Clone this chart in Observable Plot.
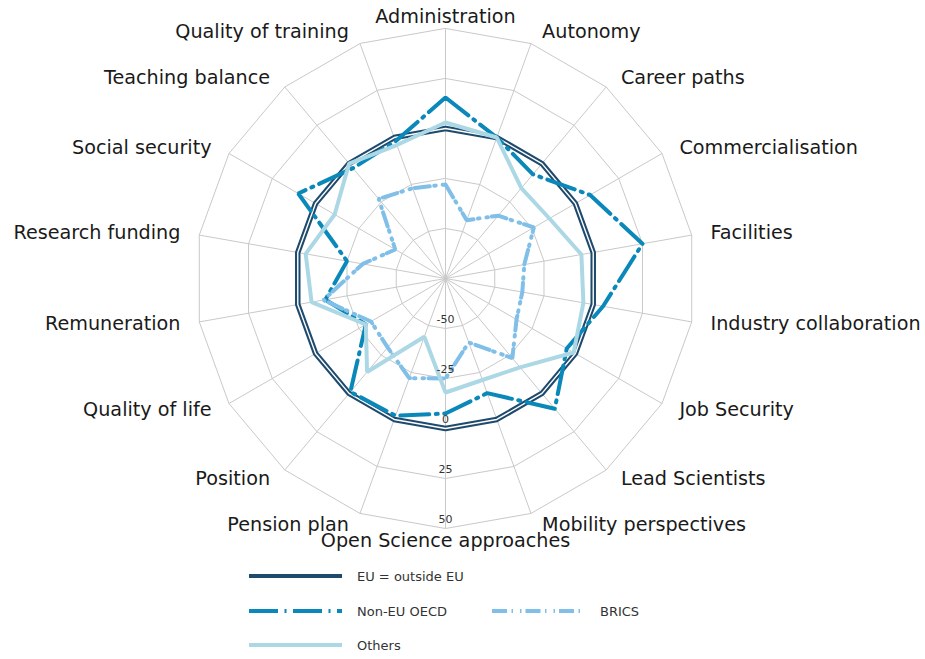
<!DOCTYPE html>
<html>
<head>
<meta charset="utf-8">
<script src="https://cdn.jsdelivr.net/npm/d3@7"></script>
<script src="https://cdn.jsdelivr.net/npm/@observablehq/plot@0.6"></script>
<style>
  body { margin: 0; background: #fff; }
  #wrap { position: relative; width: 925px; height: 659px; overflow: hidden; }
  #legend { position: absolute; left: 0; top: 560px; }
</style>
</head>
<body>
<div id="wrap"><div id="chart"></div><svg id="legend" width="925" height="99"></svg></div>
<script>
// ---- data ----
const categories = [
  "Administration", "Autonomy", "Career paths", "Commercialisation", "Facilities",
  "Industry collaboration", "Job Security", "Lead Scientists", "Mobility perspectives",
  "Open Science approaches", "Pension plan", "Position", "Quality of life",
  "Remuneration", "Research funding", "Social security", "Teaching balance",
  "Quality of training"
];
const euValues     = [0, 0, 0, 0, 0, 0, 0, 0, 0, 0, 0, 0, 0, 0, 0, 0, 0, 0];
const nonEuOecd    = [15.5, 0, -7, 8.5, 25, 5, -5, 10, -14, -7.5, -2, -1, -29, -14, -25, 10, -3, -2];
const bricsValues  = [-28, -44, -34, -24, -35, -36, -34, -23, -41, -25, -22, -30, -32, -13, -33, -46, -23, -27];
const othersValues = [3, 0, -16, -15, -6, -5, -1, -17, -21, -18, -44, -14, -29, -7, -4, -11, 0, -4];
const seriesNames  = ["EU = outside EU", "Non-EU OECD", "BRICS", "Others"];
const ringTicks    = [-50, -25, 0, 25, 50];
const radialMin = -75, radialMax = 50, labelValue = 56;

// ---- helpers ----
const n = categories.length;
const lonOf = new Map(categories.map((c, i) => [c, 180 - i * 360 / n]));
const deg = 0.004;                       // degrees per unit
const lat = v => 90 - deg * (v - radialMin);

const toRows = (name, vals) => categories.map((c, i) => ({series: name, cat: c, value: vals[i]}));
const eu = toRows(seriesNames[0], euValues);
const nonEu = toRows(seriesNames[1], nonEuOecd);
const brics = toRows(seriesNames[2], bricsValues);
const others = toRows(seriesNames[3], othersValues);
const grid = ringTicks.flatMap(t => categories.map(c => ({ring: t, cat: c})));

const styles = {
  eu: {stroke: "#1e4a6d", strokeWidth: 5.5},
  nonEu: {stroke: "#0a88b9", strokeWidth: 4, strokeDasharray: "29,6.5,2,6.5"},
  brics: {stroke: "#80bfe8", strokeWidth: 4, strokeDasharray: "15,4.5,1.5,7,1.5,4"},
  others: {stroke: "#acd8e6", strokeWidth: 4}
};

const line = (data, st) => Plot.line(data, {
  x: d => lonOf.get(d.cat), y: d => lat(d.value), curve: "linear-closed",
  strokeLinejoin: "miter", ...st
});

const rightCats = categories.filter((c, i) => i > 0 && i < n / 2);
const leftCats = categories.filter((c, i) => i > n / 2);
const midCats = [categories[0], categories[n / 2]];
const labelFont = {fontSize: 19.2, fill: "#1a1a1a", y: () => lat(labelValue), x: c => lonOf.get(c)};

const chart = Plot.plot({
  width: 925, height: 560,
  marginLeft: 195, marginRight: 230, marginTop: 28, marginBottom: 32,
  style: {fontFamily: "'DejaVu Sans', sans-serif", background: "#fff", overflow: "visible"},
  projection: {
    type: "azimuthal-equidistant",
    rotate: [0, -90],
    domain: d3.geoCircle().center([0, 90]).radius(deg * (radialMax - radialMin))(),
    clip: false
  },
  marks: [
    Plot.link(categories, {
      x1: c => lonOf.get(c), y1: () => lat(radialMin),
      x2: c => lonOf.get(c), y2: () => lat(radialMax),
      stroke: "#c9c9c9", strokeWidth: 1
    }),
    Plot.line(grid, {
      x: d => lonOf.get(d.cat), y: d => lat(d.ring), z: "ring",
      curve: "linear-closed", stroke: "#c9c9c9", strokeWidth: 1
    }),
    line(eu, styles.eu),
    line(eu, {stroke: "#ffffff", strokeWidth: 1.4}),
    line(nonEu, styles.nonEu),
    line(brics, styles.brics),
    line(others, styles.others),
    Plot.text(ringTicks, {
      x: () => lonOf.get(categories[n / 2]), y: t => lat(t), text: t => String(t),
      dy: -9, fontSize: 11, fill: "#333"
    }),
    Plot.text(rightCats, {...labelFont, text: c => c, textAnchor: "start", dx: 7}),
    Plot.text(leftCats, {...labelFont, text: c => c, textAnchor: "end", dx: -7}),
    Plot.text(midCats, {...labelFont, text: c => c, textAnchor: "middle"})
  ]
});
document.getElementById("chart").appendChild(chart);

// ---- legend ----
const legendItems = [
  {name: seriesNames[0], st: {stroke: "#1e4a6d", strokeWidth: 4}, x: 249, y: 16},
  {name: seriesNames[1], st: styles.nonEu, x: 249, y: 51},
  {name: seriesNames[2], st: styles.brics, x: 492, y: 51},
  {name: seriesNames[3], st: styles.others, x: 249, y: 85}
];
const leg = d3.select("#legend");
for (const it of legendItems) {
  leg.append("line")
    .attr("x1", it.x).attr("x2", it.x + 93).attr("y1", it.y).attr("y2", it.y)
    .attr("stroke", it.st.stroke).attr("stroke-width", it.st.strokeWidth)
    .attr("stroke-dasharray", it.st.strokeDasharray || null);
  leg.append("text")
    .attr("x", it.x + 108).attr("y", it.y + 4.5)
    .attr("font-family", "'DejaVu Sans', sans-serif").attr("font-size", 13)
    .attr("fill", "#333").text(it.name);
}
</script>
</body>
</html>
